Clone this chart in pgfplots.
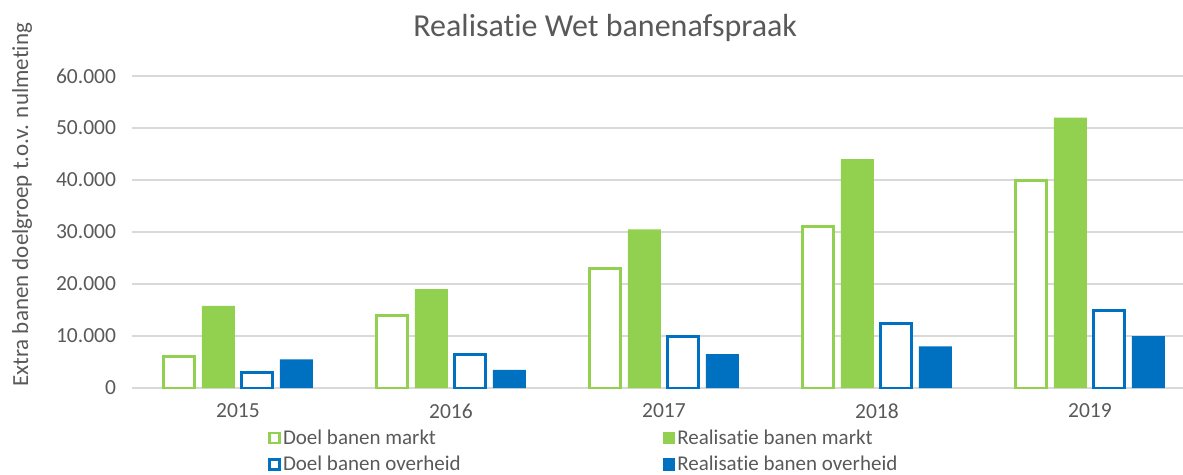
\documentclass[border=0pt]{standalone}
\usepackage{pgfplots}
\pgfplotsset{compat=1.18}
\usepackage{fontspec}
\setmainfont[Ligatures=NoCommon]{Carlito}
\definecolor{cgreen}{HTML}{92D050}
\definecolor{cblue}{HTML}{0070C0}
\definecolor{cgrid}{HTML}{D9D9D9}
\definecolor{ctext}{HTML}{595959}
\begin{document}
\begin{tikzpicture}[x=1pt,y=1pt]
\useasboundingbox (0,0) rectangle (1183,474);
\begin{axis}[
  at={(131.5pt,86pt)}, anchor=south west,
  scale only axis, width=1051.5pt, height=312pt,
  xmin=-0.5, xmax=4.437, ymin=0, ymax=60000,
  xtick={0,1,2,3,4}, xticklabels={2015,2016,2017,2018,2019},
  ytick={0,10000,20000,30000,40000,50000,60000},
  /pgf/number format/.cd, 1000 sep={.}, assume math mode=true, /pgfplots/.cd,
  scaled y ticks=false,
  ymajorgrids, grid style={cgrid, line width=1.3pt},
  axis line style={draw=none},
  major tick length=0pt,
  tick label style={font=\fontsize{21.5}{25}\selectfont, text=ctext},
  yticklabel style={xshift=-12pt},
  xticklabel style={yshift=-12pt},
  title={Realisatie Wet banenafspraak},
  title style={font=\fontsize{32}{38}\selectfont, text=ctext, at={(axis description cs:0.4505,1.135)}, anchor=center},
  ylabel={Extra banen doelgroep t.o.v. nulmeting},
  ylabel style={font=\fontsize{23}{27}\selectfont, text=ctext, at={(axis description cs:-0.104,0.587)}, anchor=center},
  ybar, bar width=31pt,
  legend columns=2,
  legend style={draw=none, fill=none, inner sep=0pt, font=\fontsize{21}{25}\selectfont, text=ctext,
    at={(axis description cs:0.13,-0.128)}, anchor=north west, row sep=6pt,
    /tikz/every even column/.append style={column sep=200pt}},
  legend cell align=left,
  legend image code/.code={\draw[#1, line width=2.6pt] (0pt,-5pt) rectangle (10pt,5pt);},
]
\addplot[draw=cgreen, fill=white, line width=3pt, bar shift=-58.5pt] coordinates {(0,6000) (1,14000) (2,23000) (3,31000) (4,40000)};
\addlegendentry{Doel banen markt}
\addplot[draw=none, fill=cgreen, bar shift=-19.5pt, bar width=33pt, legend image code/.code={\fill[cgreen] (-1.3pt,-6.3pt) rectangle (11.3pt,6.3pt);}] coordinates {(0,15800) (1,19000) (2,30500) (3,44000) (4,52000)};
\addlegendentry{Realisatie banen markt}
\addplot[draw=cblue, fill=white, line width=3pt, bar shift=19.5pt] coordinates {(0,3000) (1,6500) (2,10000) (3,12500) (4,15000)};
\addlegendentry{Doel banen overheid}
\addplot[draw=none, fill=cblue, bar shift=58.5pt, bar width=33pt, legend image code/.code={\fill[cblue] (-1.3pt,-6.3pt) rectangle (11.3pt,6.3pt);}] coordinates {(0,5500) (1,3500) (2,6500) (3,8000) (4,10000)};
\addlegendentry{Realisatie banen overheid}
\end{axis}
\end{tikzpicture}
\end{document}
